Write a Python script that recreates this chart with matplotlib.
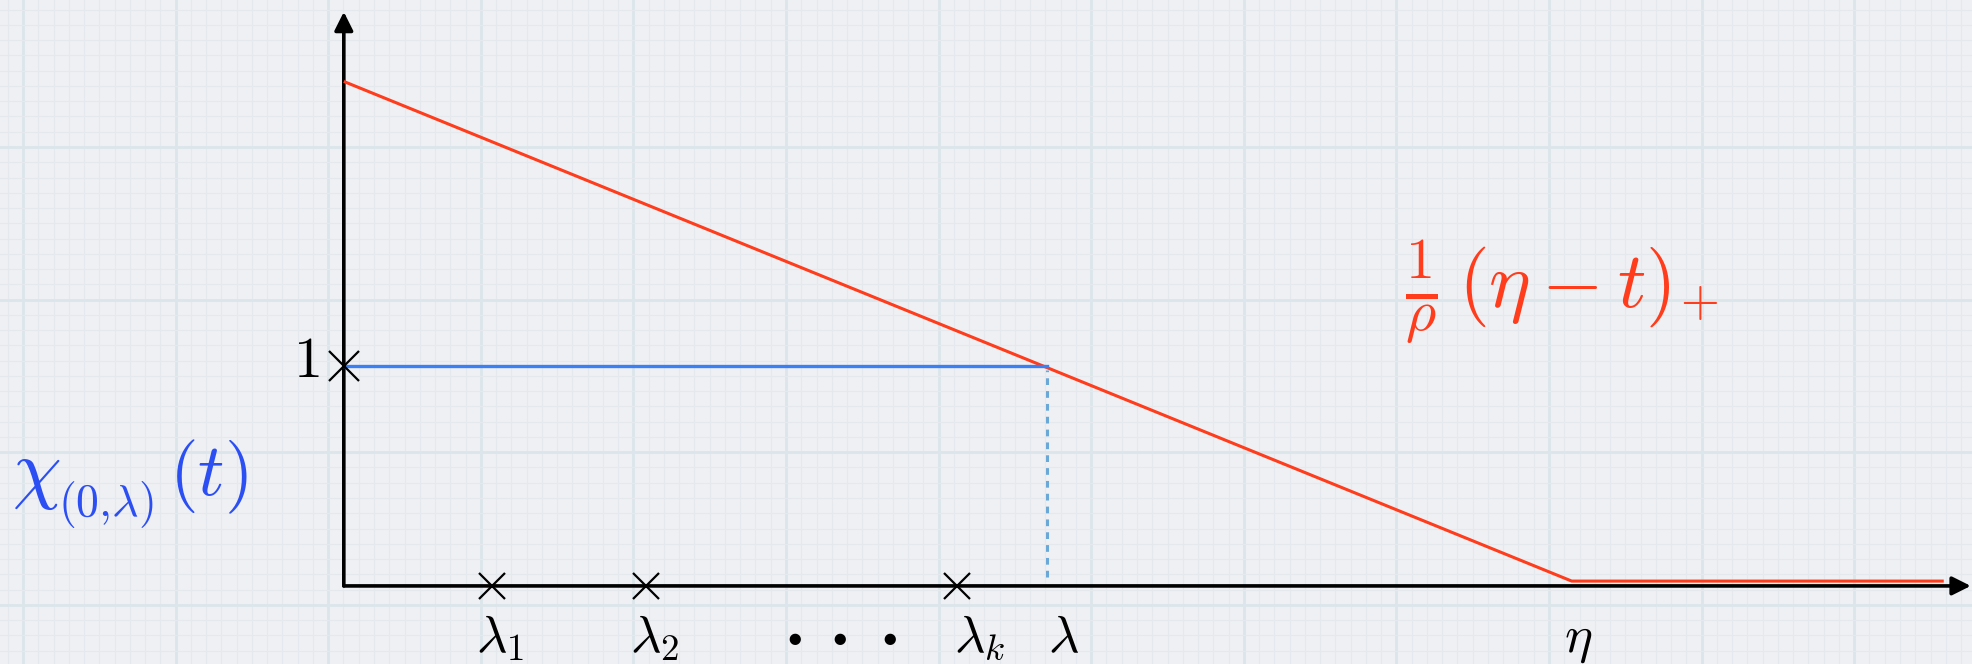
import numpy as np
import matplotlib
matplotlib.use("Agg")
import matplotlib.pyplot as plt
from matplotlib.ticker import FixedLocator

plt.rcParams["mathtext.fontset"] = "cm"

# ---- values -------------------------------------------------------------
ETA = 10.0                      # end of the ramp
RHO = 4.36                      # slope is -1/rho
LAM = 5.73                      # indicator support (0, lambda)
LAM_POINTS = [1.21, 2.46, 4.99]  # lambda_1, lambda_2, lambda_k
T_END = 13.03                   # where the red curve stops
FLAT_LIFT = 0.022               # keep the flat part visible above the t axis

tick_labels = [r"$\lambda_1$", r"$\lambda_2$", r"$\lambda_k$",
               r"$\lambda$", r"$\eta$"]
tick_label_x = [1.27, 2.53, 5.18, 5.86, 10.05]
DOTS_X = 4.06

RED = "#ff3c1c"
BLUE = "#3b7ff4"
BLUE_TXT = "#2c4ff4"
DOT_BLUE = "#6aa8d8"

W, H = 1972, 664
fig = plt.figure(figsize=(W / 100, H / 100), dpi=100)
fig.patch.set_facecolor("#eef0f3")

# ---- graph-paper background --------------------------------------------
bg = fig.add_axes([0, 0, 1, 1])
bg.set_xlim(0, W)
bg.set_ylim(H, 0)
bg.set_facecolor("#eef0f3")
major = 152.6
bg.xaxis.set_major_locator(FixedLocator(np.arange(23, W, major)))
bg.xaxis.set_minor_locator(FixedLocator(np.arange(23 - major, W, major / 10)))
bg.yaxis.set_major_locator(FixedLocator(np.arange(-5.6, H, major)))
bg.yaxis.set_minor_locator(FixedLocator(np.arange(-5.6, H, major / 10)))
bg.grid(which="major", color="#dce5ea", lw=2.0)
bg.grid(which="minor", color="#e5e9ed", lw=0.8)
bg.tick_params(which="both", length=0, labelbottom=False, labelleft=False)
for s in bg.spines.values():
    s.set_visible(False)
bg.set_zorder(0)

# ---- the plot itself ------------------------------------------------------
ax = fig.add_axes([0, 0, 1, 1])
ax.set_xlim(-2.80, 13.26)
ax.set_ylim(-0.355, 2.664)
ax.patch.set_alpha(0)
ax.axis("off")
ax.set_zorder(1)

# axes with arrow heads
arrow = dict(arrowstyle="-|>", lw=2.6, color="black", mutation_scale=28,
             shrinkA=0, shrinkB=0)
ax.annotate("", xy=(13.25, 0), xytext=(0, 0), arrowprops=arrow)
ax.annotate("", xy=(0, 2.61), xytext=(0, 0), arrowprops=arrow)

# (eta - t)_+ / rho
t_red = np.array([0.0, ETA, T_END])
red_y = np.maximum((ETA - t_red) / RHO, FLAT_LIFT)
ax.plot(t_red, red_y, color=RED, lw=2.2, solid_capstyle="butt", zorder=3)

# indicator of (0, lambda)
ax.plot([0, LAM], [1, 1], color=BLUE, lw=2.4, zorder=3)
ax.plot([LAM, LAM], [0.04, 0.98], color=DOT_BLUE, lw=2.2,
        linestyle=(0, (2.2, 2.0)), zorder=2)

# tick crosses
ax.plot(LAM_POINTS, np.zeros(len(LAM_POINTS)), "x", color="black",
        ms=19, mew=1.6, zorder=4)
ax.plot([0], [1], "x", color="black", ms=21, mew=1.6, zorder=4)

# axis labels
for x, s in zip(tick_label_x, tick_labels):
    ax.text(x, -0.30, s, fontsize=38, ha="center", va="baseline")
ax.text(DOTS_X, -0.27, r"$\bullet\quad\bullet\quad\bullet$", fontsize=21,
        ha="center", va="baseline")
ax.text(-0.20, 0.95, r"$1$", fontsize=42, ha="right", va="baseline")

# chi_{(0,lambda)}(t), set in pieces so the argument parens come out large
ax.text(-2.70, 0.42, r"$\chi$", fontsize=56, color=BLUE_TXT,
        ha="left", va="baseline")
ax.text(-2.33, 0.32, r"$(0{,}\lambda)$", fontsize=33, color=BLUE_TXT,
        ha="left", va="baseline")
ax.text(-1.42, 0.41, r"$(t)$", fontsize=53, color=BLUE_TXT,
        ha="left", va="baseline")

# (eta - t)_+ / rho label
ax.text(8.64, 1.255, r"$\frac{1}{\rho}$", fontsize=60, color=RED,
        ha="left", va="baseline")
ax.text(9.07, 1.27, r"$(\eta - t)$", fontsize=57, color=RED,
        ha="left", va="baseline")
ax.text(10.88, 1.227, r"$+$", fontsize=36, color=RED,
        ha="left", va="baseline")

fig.savefig("out.png", dpi=100, facecolor=fig.get_facecolor())
